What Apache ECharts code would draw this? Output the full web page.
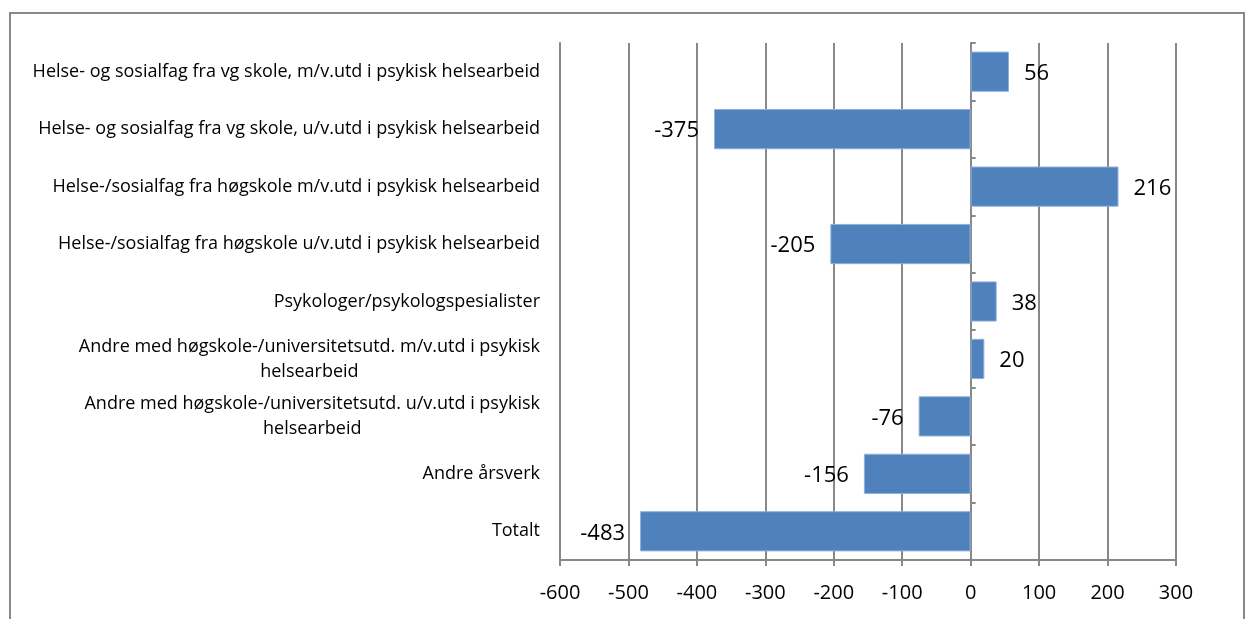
<!DOCTYPE html>
<html>
<head>
<meta charset="utf-8">
<script src="https://cdn.jsdelivr.net/npm/echarts@6/dist/echarts.min.js"></script>
<style>
html, body { margin: 0; padding: 0; background: #fff; }
#main { width: 1253px; height: 619px; }
</style>
</head>
<body>
<div id="main"></div>
<script>
var categories = [
    'Helse- og sosialfag fra vg skole, m/v.utd i psykisk helsearbeid',
    'Helse- og sosialfag fra vg skole, u/v.utd i psykisk helsearbeid',
    'Helse-/sosialfag fra høgskole m/v.utd i psykisk helsearbeid',
    'Helse-/sosialfag fra høgskole u/v.utd i psykisk helsearbeid',
    'Psykologer/psykologspesialister',
    'Andre med høgskole-/universitetsutd. m/v.utd i psykisk\nhelsearbeid',
    'Andre med høgskole-/universitetsutd. u/v.utd i psykisk\nhelsearbeid',
    'Andre årsverk',
    'Totalt'
];
var values = [56, -375, 216, -205, 38, 20, -76, -156, -483];
var xTicks = [-600, 300, 100]; // min, max, interval

var font = '"Open Sans", sans-serif';
var grey = '#888888';

var chart = echarts.init(document.getElementById('main'));

// etiketter: hver linje sentrert i blokka, blokka høyrejustert mot aksen
function wrapLabel(v) {
    return v.split('\n').map(function (l) { return '{c|' + l + '}'; }).join('\n');
}

var option = {
    animation: false,
    backgroundColor: '#fff',
    graphic: [{
        type: 'rect',
        shape: { x: 10, y: 13, width: 1234, height: 620 },
        style: { fill: 'none', stroke: grey, lineWidth: 2 },
        silent: true
    }],
    grid: { left: 560, right: 77, top: 43, bottom: 59 },
    xAxis: {
        type: 'value',
        min: xTicks[0], max: xTicks[1], interval: xTicks[2],
        axisLine: { show: true, lineStyle: { color: grey, width: 2 } },
        axisTick: { show: true, length: 6, lineStyle: { color: grey, width: 2 } },
        axisLabel: { color: '#000', fontFamily: font, fontSize: 20, margin: 23 },
        splitLine: { show: true, lineStyle: { color: grey, width: 2 } }
    },
    yAxis: [{
        type: 'category',
        data: categories,
        inverse: true,
        position: 'left',
        axisLine: { show: true, onZero: false, lineStyle: { color: grey, width: 2 } },
        axisTick: { show: false },
        axisLabel: {
            color: '#000', fontFamily: font, fontSize: 18, margin: 20,
            lineHeight: 25,
            formatter: wrapLabel,
            rich: { c: { align: 'center', color: '#000', fontFamily: font, fontSize: 18, lineHeight: 25 } }
        }
    }, {
        type: 'category',
        data: categories,
        inverse: true,
        axisLine: { show: true, onZero: true, lineStyle: { color: grey, width: 2 } },
        axisTick: { show: true, length: 5, lineStyle: { color: grey, width: 2 } },
        axisLabel: { show: false }
    }],
    series: [{
        type: 'bar',
        data: values.map(function (v) {
            return { value: v, label: { position: v < 0 ? 'left' : 'right' } };
        }),
        barCategoryGap: '30%',
        itemStyle: { color: '#4F81BD', borderColor: '#8FB0DA', borderWidth: 1 },
        label: {
            show: true, distance: 15, color: '#000',
            fontFamily: font, fontSize: 22, offset: [0, 2]
        }
    }]
};

chart.setOption(option);
</script>
</body>
</html>
